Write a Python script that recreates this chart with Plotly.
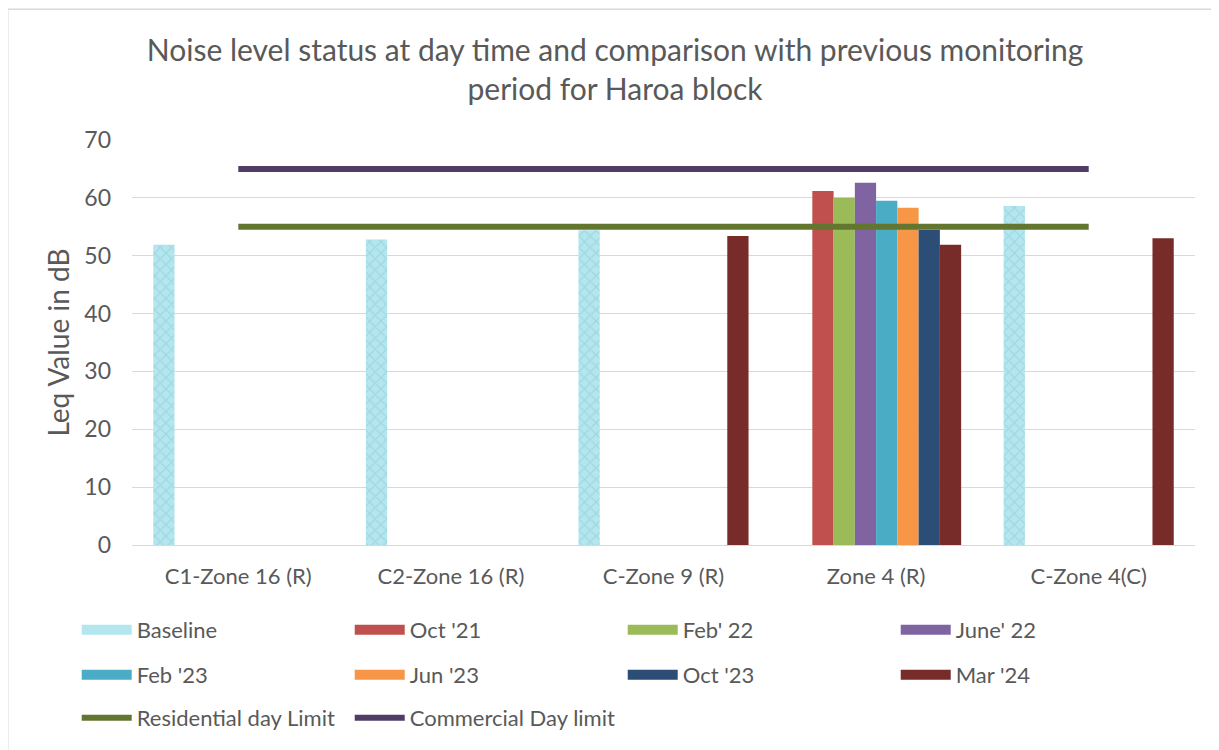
import plotly.graph_objects as go

categories = ["C1-Zone 16 (R)", "C2-Zone 16 (R)", "C-Zone 9 (R)", "Zone 4 (R)", "C-Zone 4(C)"]
series_names = ["Baseline", "Oct '21", "Feb' 22", "June' 22", "Feb '23", "Jun '23", "Oct '23", "Mar '24"]
baseline = [51.9, 52.8, 54.4, None, 58.6]
oct21 = [None, None, None, 61.2, None]
feb22 = [None, None, None, 60.0, None]
jun22 = [None, None, None, 62.6, None]
feb23 = [None, None, None, 59.5, None]
jun23 = [None, None, None, 58.3, None]
oct23 = [None, None, None, 54.5, None]
mar24 = [None, None, 53.4, 51.9, 53.0]
residential_limit = [55, 55, 55, 55, 55]
commercial_limit = [65, 65, 65, 65, 65]

series_values = [baseline, oct21, feb22, jun22, feb23, jun23, oct23, mar24]
colors = ["#b4e6ee", "#c0504d", "#9bbb59", "#8064a2", "#4bacc6", "#f79646", "#2c4d75", "#772c2a"]
legend_ids = ["legend", "legend", "legend", "legend", "legend2", "legend2", "legend2", "legend2"]

FONT = "Lato"
GREY = "#595959"

fig = go.Figure()
for i, (name, vals) in enumerate(zip(series_names, series_values)):
    marker = dict(color=colors[i], line=dict(width=0))
    if i == 0:
        marker = dict(
            color="#b4e6ee",
            line=dict(width=0),
            pattern=dict(shape="x", fgcolor="#8cc8d6", bgcolor="#b4e6ee", size=8, solidity=0.3),
        )
    fig.add_trace(go.Bar(
        x=categories, y=vals, name=name, marker=marker,
        legendgroup=name, showlegend=False,
    ))

# legend keys drawn as wide colour swatches (one per bar series)
for i, name in enumerate(series_names):
    fig.add_trace(go.Scatter(
        x=[None], y=[None], name=name, mode="lines",
        line=dict(color=colors[i], width=14),
        legend=legend_ids[i], legendgroup=name, showlegend=True, hoverinfo="skip",
    ))

fig.add_trace(go.Scatter(
    x=categories, y=residential_limit, name="Residential day Limit", mode="lines",
    line=dict(color="#637630", width=6), legend="legend3",
))
fig.add_trace(go.Scatter(
    x=categories, y=commercial_limit, name="Commercial Day limit", mode="lines",
    line=dict(color="#4f3d66", width=6), legend="legend3",
))

leg_common = dict(
    orientation="h", xanchor="left", yanchor="middle", x=-0.052,
    font=dict(family=FONT, size=22, color=GREY),
    entrywidth=208, entrywidthmode="pixels", itemwidth=50,
    bgcolor="rgba(0,0,0,0)", traceorder="normal",
)

fig.update_layout(
    width=1219, height=750,
    margin=dict(l=124, r=32, t=132, b=213),
    paper_bgcolor="white", plot_bgcolor="white",
    barmode="group", bargap=0.2, bargroupgap=0,
    title=dict(
        text="Noise level status at day time and comparison with previous monitoring<br>period for Haroa block",
        x=0.498, xanchor="center", y=0.93, yanchor="top",
        font=dict(family=FONT, size=30, color=GREY),
    ),
    xaxis=dict(
        showgrid=False, showline=True, linecolor="#d9d9d9", linewidth=1,
        tickfont=dict(family=FONT, size=22, color=GREY), ticks="", ticklabelstandoff=12,
    ),
    yaxis=dict(
        range=[0, 70], dtick=10, showgrid=True, gridcolor="#d9d9d9", gridwidth=1,
        zeroline=False, showline=False, ticklabelstandoff=20,
        tickfont=dict(family=FONT, size=23, color=GREY), ticks="",
        title=dict(text="Leq Value in dB", font=dict(family=FONT, size=28, color=GREY), standoff=6),
    ),
    legend=dict(y=-0.21, **leg_common),
    legend2=dict(y=-0.321, **leg_common),
    legend3=dict(y=-0.427, **leg_common),
    shapes=[dict(type="rect", xref="paper", yref="paper", x0=-0.1169, x1=1.1, y0=-0.6, y1=1.323,
                 line=dict(color="#d9d9d9", width=1.5))],
    font=dict(family=FONT, color=GREY),
)

fig.write_html("out.html")
